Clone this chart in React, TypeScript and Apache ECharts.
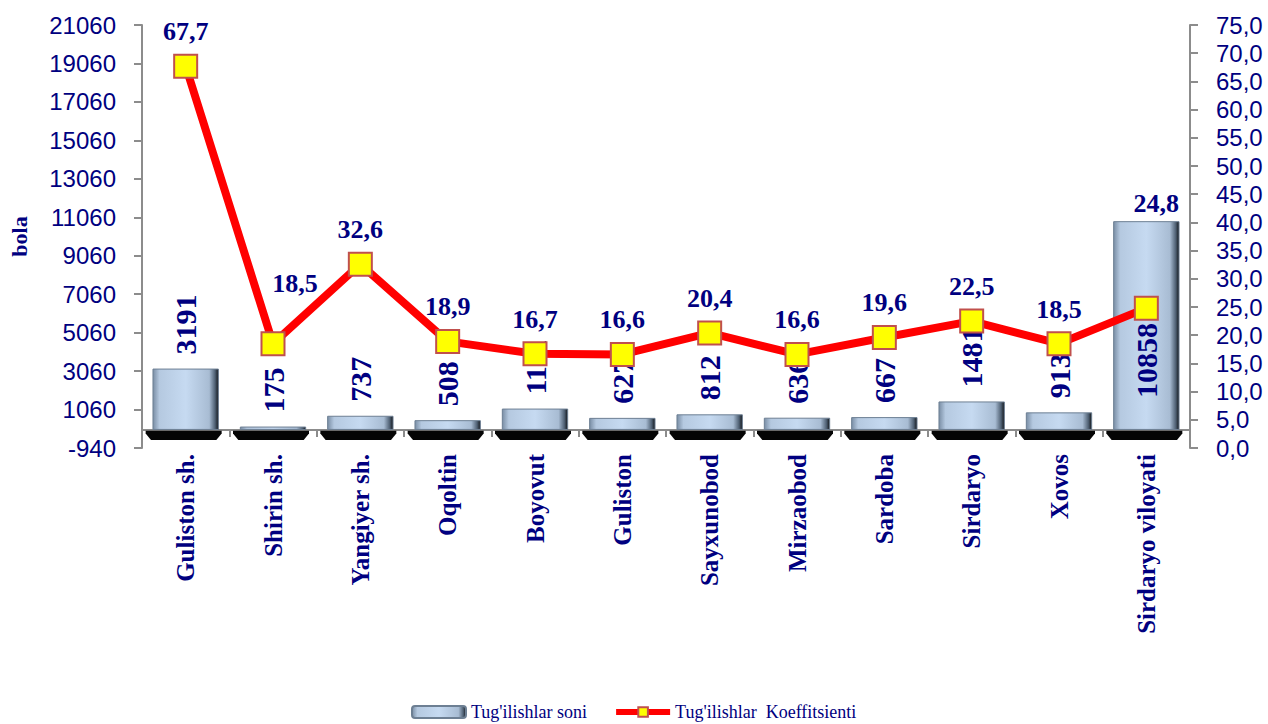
import React, { useEffect, useRef } from "react";
import * as echarts from "echarts";

const categories = [
  "Guliston sh.",
  "Shirin sh.",
  "Yangiyer sh.",
  "Oqoltin",
  "Boyovut",
  "Guliston",
  "Sayxunobod",
  "Mirzaobod",
  "Sardoba",
  "Sirdaryo",
  "Xovos",
  "Sirdaryo viloyati",
];
const birthCounts = [3191, 175, 737, 508, 1111, 627, 812, 636, 667, 1481, 913, 10858];
const birthRates = [67.7, 18.5, 32.6, 18.9, 16.7, 16.6, 20.4, 16.6, 19.6, 22.5, 18.5, 24.8];
const leftTicks = { min: -940, max: 21060, interval: 2000 };
const rightTicks = { min: 0, max: 75, interval: 5 };
const seriesNames = ["Tug'ilishlar soni", "Tug'ilishlar  Koeffitsienti"];

const NAVY = "#000080";
const SERIF = "'Liberation Serif', 'Times New Roman', serif";
const SANS = "'Liberation Sans', Arial, sans-serif";

const fmtComma = (v: number) => v.toFixed(1).replace(".", ",");

export default function App() {
  const ref = useRef<HTMLDivElement>(null);
  useEffect(() => {
    if (!ref.current) return;
    const chart = echarts.init(ref.current, null, { renderer: "svg" });
    const last = categories.length - 1;
    const barGradient = new echarts.graphic.LinearGradient(0, 0, 1, 0, [
      { offset: 0, color: "#7a8ea5" },
      { offset: 0.1, color: "#b5c9e0" },
      { offset: 0.5, color: "#c6daf1" },
      { offset: 0.86, color: "#a8bcd3" },
      { offset: 0.95, color: "#4f6073" },
      { offset: 1, color: "#111418" },
    ]);
    chart.setOption({
      animation: false,
      backgroundColor: "#ffffff",
      grid: { left: 140, right: 78, top: 25, bottom: 276, containLabel: false },
      legend: {
        data: [
          { name: seriesNames[0] },
          { name: seriesNames[1], lineStyle: { width: 6 } },
        ],
        left: 406,
        top: 698,
        itemWidth: 54,
        itemHeight: 12,
        itemGap: 26,
        textStyle: { fontFamily: SERIF, fontSize: 18, color: NAVY, padding: [2, 0, 0, 0] },
      },
      xAxis: {
        type: "category",
        data: categories,
        axisLine: { show: true, lineStyle: { color: "#8c8c8c", width: 2 } },
        axisTick: { show: true, length: 7, lineStyle: { color: "#8c8c8c", width: 2 } },
        axisLabel: {
          rotate: 90,
          margin: 6,
          interval: 0,
          fontFamily: SERIF,
          fontWeight: "bold",
          fontSize: 25,
          color: NAVY,
        },
      },
      yAxis: [
        {
          type: "value",
          min: leftTicks.min,
          max: leftTicks.max,
          interval: leftTicks.interval,
          name: "bola",
          nameLocation: "middle",
          nameRotate: 90,
          nameGap: 112,
          nameTextStyle: { fontFamily: SERIF, fontWeight: "bold", fontSize: 22, color: NAVY },
          axisLine: { show: true, lineStyle: { color: "#8c8c8c", width: 2 } },
          axisTick: { show: true, length: 8, lineStyle: { color: "#8c8c8c", width: 2 } },
          axisLabel: {
            fontFamily: SANS,
            fontSize: 24,
            color: NAVY,
            margin: 26,
            formatter: (v: number) => String(v),
          },
          splitLine: { show: false },
        },
        {
          type: "value",
          min: rightTicks.min,
          max: rightTicks.max,
          interval: rightTicks.interval,
          position: "right",
          axisLine: { show: true, lineStyle: { color: "#8c8c8c", width: 2 } },
          axisTick: { show: true, length: 8, lineStyle: { color: "#8c8c8c", width: 2 } },
          axisLabel: {
            fontFamily: SANS,
            fontSize: 24,
            color: NAVY,
            margin: 26,
            formatter: (v: number) => fmtComma(v),
          },
          splitLine: { show: false },
        },
      ],
      series: [
        {
          name: "plate",
          type: "pictorialBar",
          yAxisIndex: 0,
          z: 1,
          silent: true,
          symbol: "path://M0,0 L100,0 L100,3 L93,10 L7,10 L0,3 Z",
          symbolSize: [76, 9],
          symbolPosition: "start",
          symbolOffset: [-2, 10],
          symbolClip: false,
          itemStyle: { color: "#050505" },
          data: birthCounts,
          label: { show: false },
        },
        {
          name: seriesNames[0],
          type: "bar",
          yAxisIndex: 0,
          z: 2,
          barCategoryGap: "24%",
          itemStyle: {
            color: barGradient,
            borderColor: "#6d7f93",
            borderWidth: 1,
          },
          label: {
            show: true,
            position: "top",
            distance: 14,
            rotate: 90,
            align: "left",
            verticalAlign: "middle",
            fontFamily: SERIF,
            fontWeight: "bold",
            fontSize: 30,
            color: NAVY,
          },
          data: birthCounts.map((v, i) =>
            i === last
              ? { value: v, label: { position: "insideBottom", distance: 32 } }
              : v
          ),
        },
        {
          name: seriesNames[1],
          type: "line",
          yAxisIndex: 1,
          z: 3,
          symbol: "rect",
          symbolSize: 23,
          lineStyle: { color: "#ff0000", width: 8 },
          itemStyle: { color: "#ffff00", borderColor: "#c0504d", borderWidth: 2 },
          label: {
            show: true,
            position: "top",
            distance: 9,
            fontFamily: SERIF,
            fontWeight: "bold",
            fontSize: 26,
            color: NAVY,
            formatter: (p: any) => fmtComma(p.value),
          },
          data: birthRates.map((v, i) =>
            i === last
              ? { value: v, label: { offset: [10, -70] } }
              : i === 1
              ? { value: v, label: { offset: [22, -26] } }
              : v
          ),
        },
      ],
    });
    return () => chart.dispose();
  }, []);
  return (
    <div
      ref={ref}
      style={{ width: 1268, height: 724, position: "absolute", left: 0, top: 0 }}
    />
  );
}
